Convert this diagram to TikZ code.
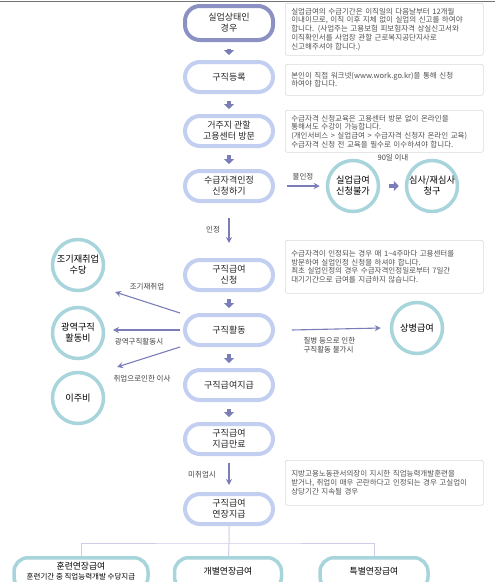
\documentclass[tikz,border=0pt]{standalone}
\usepackage{fontspec}
\setmainfont{Noto Sans CJK KR}
\usetikzlibrary{arrows.meta}

\definecolor{boxblue}{RGB}{194,207,240}
\definecolor{boxdark}{RGB}{140,145,196}
\definecolor{ringteal}{RGB}{168,212,220}
\definecolor{arrowpurple}{RGB}{122,125,184}
\definecolor{notegray}{RGB}{80,80,80}
\definecolor{branchline}{RGB}{205,205,232}

\begin{document}
\begin{tikzpicture}[x=1pt, y=-1pt,
  stepbox/.style={draw=boxblue, line width=4pt, fill=white, rounded corners=15pt,
    minimum width=88pt, minimum height=30pt, align=center, inner sep=1pt,
    font=\fontsize{9}{11}\selectfont, text=black!85},
  ring/.style={circle, draw=ringteal, line width=3.5pt, fill=white, minimum size=51pt,
    inner sep=0pt, align=center, font=\fontsize{9.2}{11}\selectfont, text=black},
  endbox/.style={draw=ringteal, line width=3.5pt, fill=white, rounded corners=14pt,
    anchor=north, minimum height=33pt, text depth=7pt, align=center, text=black,
    font=\fontsize{8.8}{10}\selectfont},
  note/.style={draw=black!15, line width=0.6pt, rounded corners=2pt, anchor=north west,
    text width=186pt, inner xsep=6pt, align=left, text=notegray,
    font=\fontsize{7.5}{8.7}\selectfont},
  bigarrow/.style={draw=arrowpurple, line width=4pt, -{Triangle[length=5pt,width=10pt]},
    shorten <=7pt, shorten >=5pt},
  thinarrow/.style={draw=arrowpurple, line width=1.1pt, -{Stealth[length=6pt,width=6pt]}},
  tag/.style={font=\fontsize{7.5}{9}\selectfont, text=black!75, align=left},
  branch/.style={draw=branchline, line width=1pt}
]
\useasboundingbox (0,0) rectangle (495,582);
\clip (0,0) rectangle (495,582);
\draw [black!55, line width=1pt] (0,1) -- (495,1);

% main column
\node [stepbox, draw=boxdark, minimum height=34pt] (b1) at (229,23) {실업상태인\\경우};
\node [stepbox] (b2) at (229,77) {구직등록};
\node [stepbox] (b3) at (229,131) {거주지 관할\\고용센터 방문};
\node [stepbox] (b4) at (229,186) {수급자격인정\\신청하기};
\node [stepbox] (b5) at (229,275) {구직급여\\신청};
\node [stepbox] (b6) at (229,330) {구직활동};
\node [stepbox] (b7) at (229,385) {구직급여지급};
\node [stepbox] (b8) at (229,439) {구직급여\\지급만료};
\node [stepbox] (b9) at (229,509) {구직급여\\연장지급};

\draw [bigarrow] (b1) -- (b2);
\draw [bigarrow] (b2) -- (b3);
\draw [bigarrow] (b3) -- (b4);
\draw [thinarrow, shorten <=15pt, shorten >=15pt] (b4) -- (b5);
\node [tag] (okay) at (213,230) {인정};
\draw [bigarrow] (b5) -- (b6);
\draw [bigarrow] (b6) -- (b7);
\draw [bigarrow] (b7) -- (b8);
\draw [thinarrow, shorten <=7pt, shorten >=7pt] (b8) -- (b9);
\node [tag] (nojob) at (202,475) {미취업시};

% circles
\node [ring] (c1) at (353,186) {실업급여\\신청불가};
\node [ring] (c2) at (432,186) {심사/재심사\\청구};
\draw [thinarrow] ([xshift=12pt]b4.east) -- ([xshift=-6pt]c1.west);
\node [tag] (deny) at (303,177) {불인정};
\draw [bigarrow, shorten <=9pt, shorten >=6pt] (c1) -- (c2);
\node [tag] (days) at (393,158) {90일 이내};

\node [ring] (l1) at (78,265) {조기재취업\\수당};
\node [ring] (l2) at (78,333) {광역구직\\활동비};
\node [ring] (l3) at (78,398) {이주비};
\node [ring] (r1) at (417,328) {상병급여};

\coordinate (to1) at (115,292);
\coordinate (to2) at (113,330);
\coordinate (to3) at (117,367);
\draw [thinarrow] ([xshift=-3pt,yshift=17pt]b6.west) -- (to1);
\draw [thinarrow] ([xshift=-3pt]b6.west) -- (to2);
\draw [thinarrow] ([xshift=-3pt,yshift=-17pt]b6.west) -- (to3);
\node [tag] (early) at (147,287) {조기재취업};
\node [tag] (wide) at (139,342) {광역구직활동시};
\node [tag] (move) at (142,379) {취업으로인한 이사};
\draw [thinarrow] ([xshift=17pt]b6.east) -- ([xshift=-9pt]r1.west);
\node [tag, anchor=west] (sick) at (300,345) {질병 등으로 인한\\구직활동 불가시};

% notes
\node [note, minimum height=52pt] (n1) at (285,3) {실업급여의 수급기간은 이직일의 다음날부터 12개월\\
  이내이므로, 이직 이후 지체 없이 실업의 신고를 하여야\\
  합니다. (사업주는 고용보험 피보험자격 상실신고서와\\
  이직확인서를 사업장 관할 근로복지공단지사로\\
  신고해주셔야 합니다.)};
\node [note, minimum height=31pt] (n2) at (285,64) {본인이 직접 워크넷(www.work.go.kr)을 통해 신청\\
  하여야 합니다.};
\node [note, minimum height=42pt] (n3) at (285,110) {수급자격 신청교육은 고용센터 방문 없이 온라인을\\
  통해서도 수강이 가능합니다.\\
  (개인서비스 > 실업급여 > 수급자격 신청자 온라인 교육)\\
  * 수급자격 신청 전 교육을 필수로 이수하셔야 합니다.};
\node [note, minimum height=53pt] (n4) at (285,240) {수급자격이 인정되는 경우 매 1\textasciitilde 4주마다 고용센터를\\
  방문하여 실업인정 신청을 하셔야 합니다.\\
  최초 실업인정의 경우 수급자격인정일로부터 7일간\\
  대기기간으로 급여를 지급하지 않습니다.};
\node [note, minimum height=45pt] (n5) at (285,460) {지방고용노동관서의장이 지시한 직업능력개발훈련을\\
  받거나, 취업이 매우 곤란하다고 인정되는 경우 고실업이\\
  상당기간 지속될 경우};

% extended benefits
\node [endbox, minimum width=134pt] (e1) at (81,556) {훈련연장급여\\
  {\fontsize{7.5}{8.5}\selectfont 훈련기간 중 직업능력개발 수당지급}};
\node [endbox, minimum width=107pt] (e2) at (228,556) {개별연장급여};
\node [endbox, minimum width=108pt] (e3) at (374,556) {특별연장급여};
\coordinate (split) at (229,543);
\draw [branch] (b9) -- (split) -- (e2);
\draw [branch] (e1) |- (split) -| (e3);
\end{tikzpicture}
\end{document}
